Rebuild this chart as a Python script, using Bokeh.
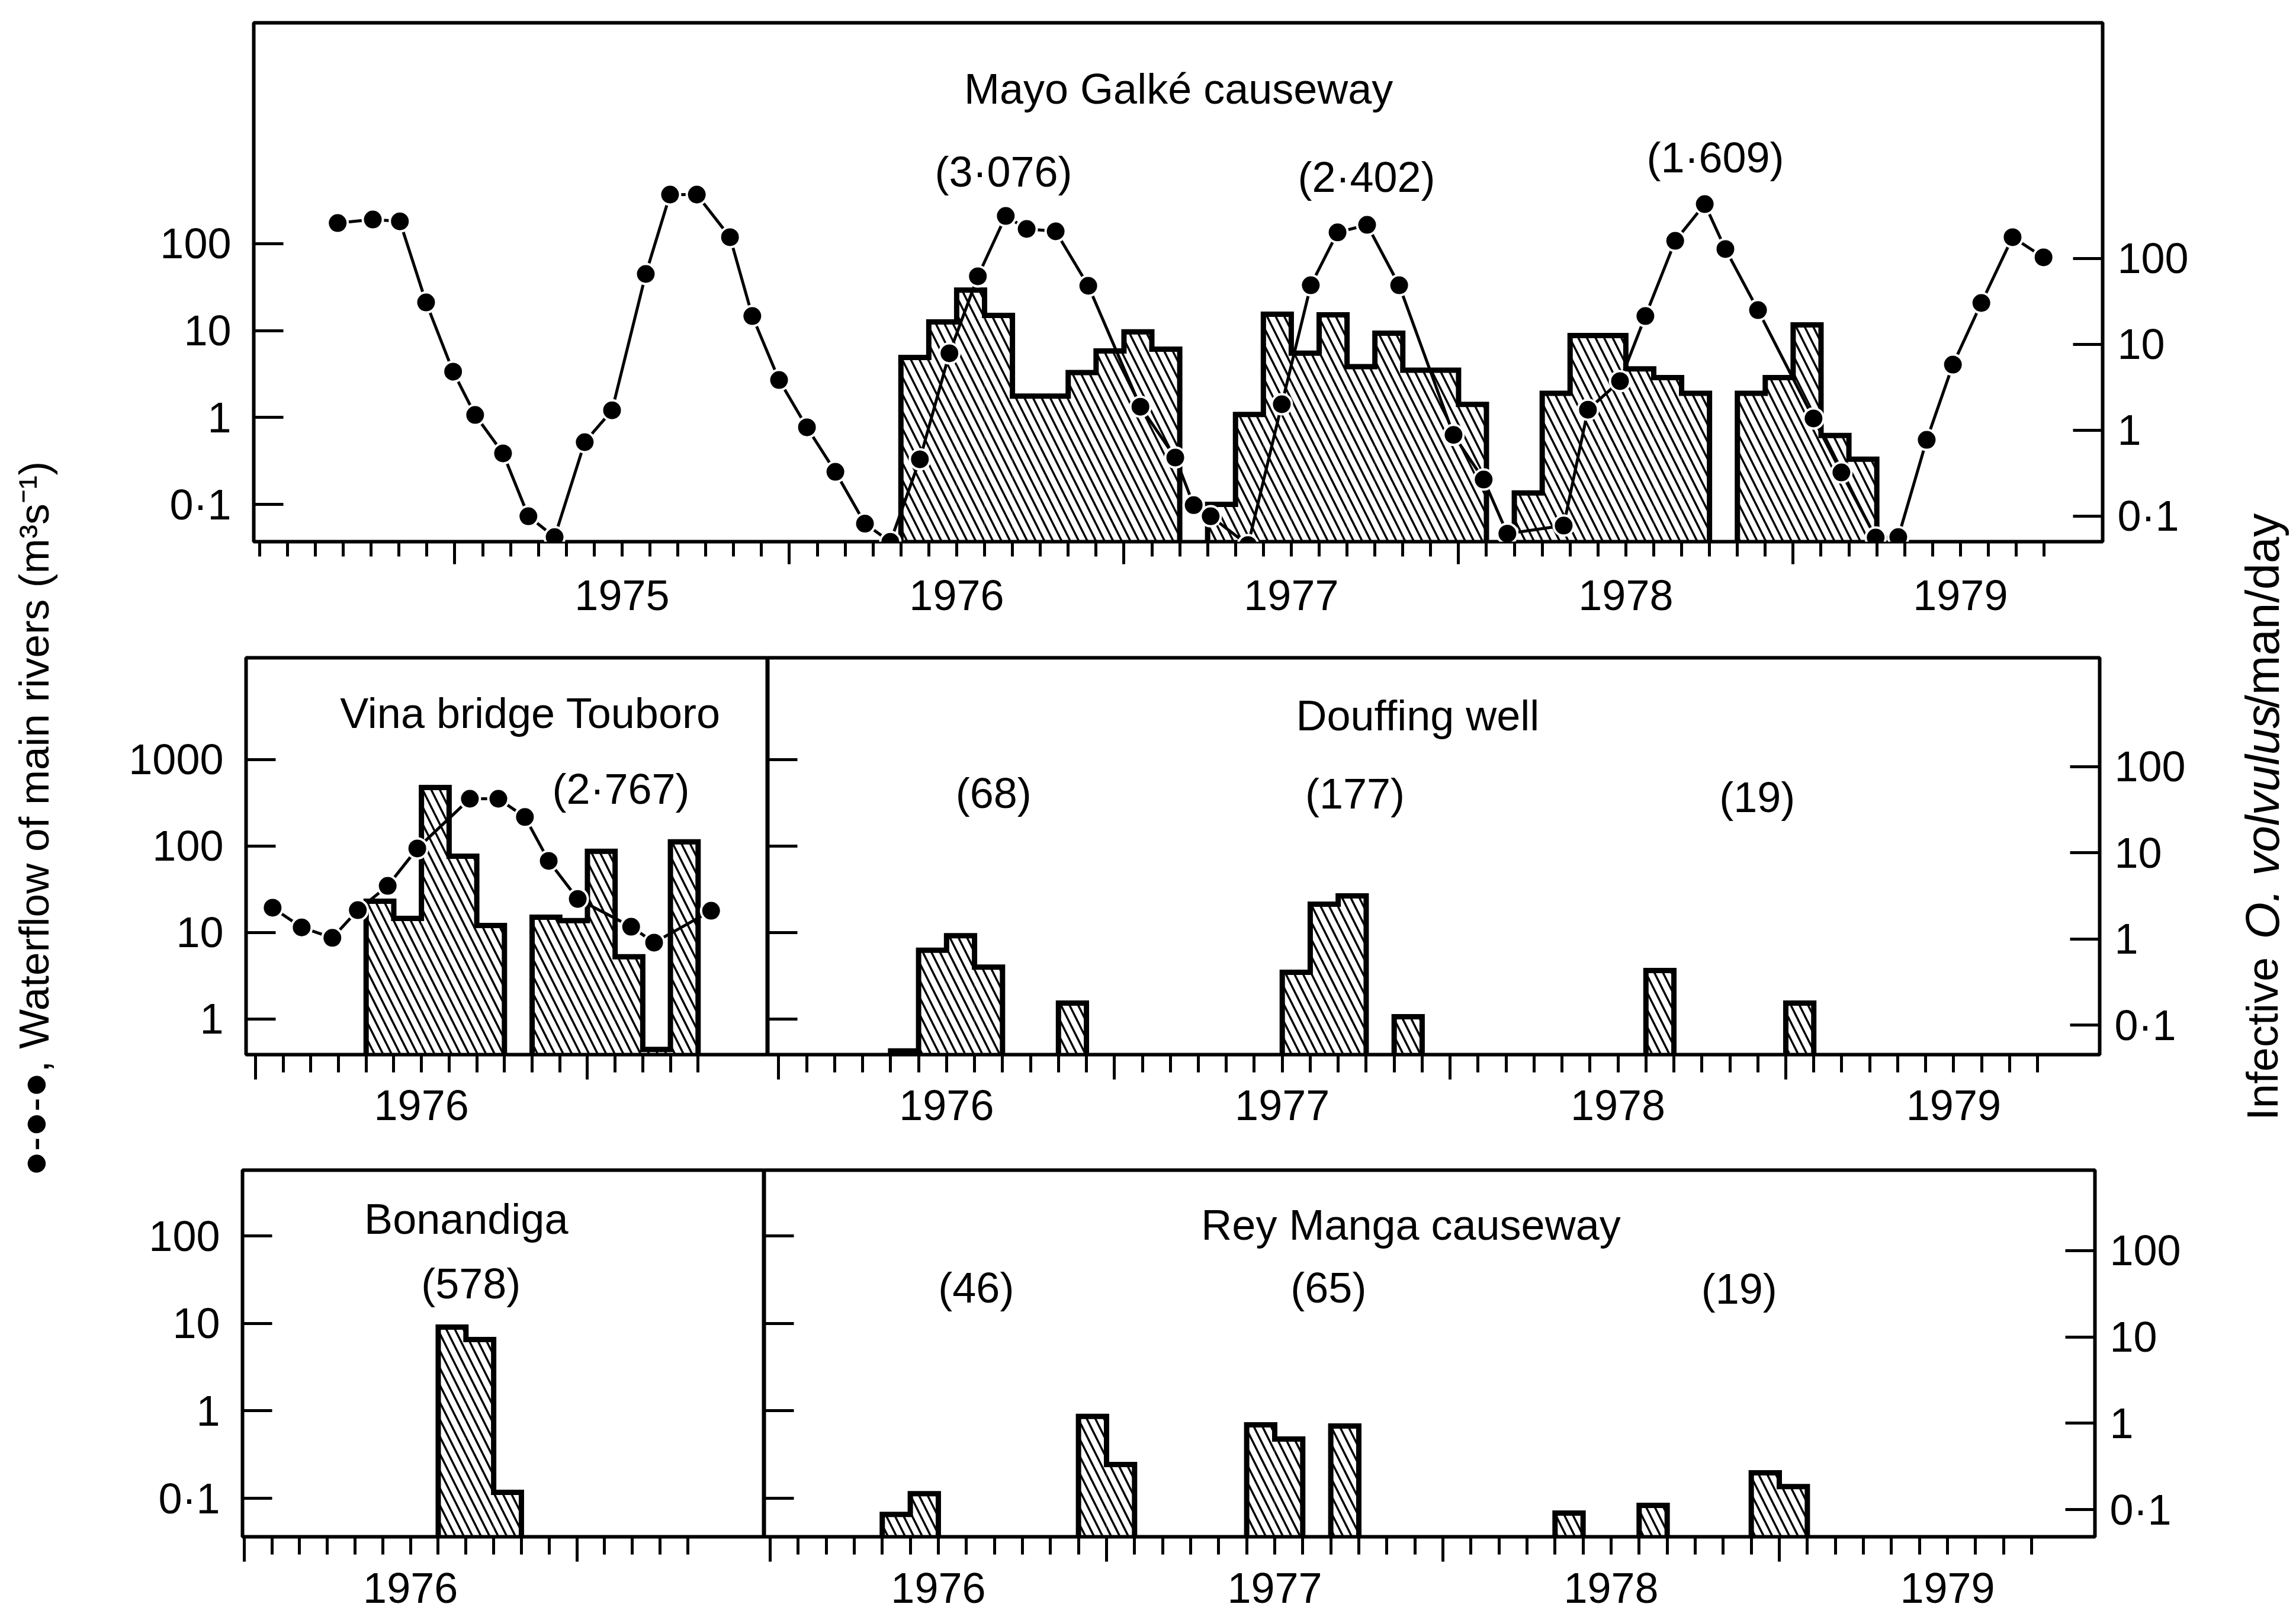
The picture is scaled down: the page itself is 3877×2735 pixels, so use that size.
from bokeh.plotting import figure
from bokeh.models import (Range1d, LogScale, LogAxis, LinearAxis, FixedTicker,
                          CustomJSTickFormatter, Label)
from bokeh.layouts import row, column
from bokeh.embed import file_html
from bokeh.resources import INLINE

FONT = "Liberation Sans"
TXT = "72px"

# ---------------- data (month index: 0 = January 1974) ----------------
mg_years = [1975, 1976, 1977, 1978, 1979]
mg_flow_month = [7.8, 9.06, 10.03, 10.97, 11.94, 12.73, 13.73, 14.64, 15.58, 16.66,
                 17.64, 18.85, 19.72, 20.68, 21.87, 22.67, 23.63, 24.63, 25.65, 26.71,
                 27.62, 28.68, 29.74, 30.76, 31.76, 32.51, 33.55, 34.72, 36.59, 37.84,
                 38.50, 39.11, 40.45, 41.66, 42.70, 43.66, 44.72, 45.87, 47.82, 48.90,
                 49.75, 51.77, 52.64, 53.79, 54.70, 55.77, 56.83, 57.57, 58.74, 60.73,
                 61.73, 62.96, 63.77, 64.79, 65.73, 66.75, 67.87, 68.98]
mg_flow_value = [173, 190, 181, 21.1, 3.37, 1.07, 0.386, 0.073, 0.042, 0.52,
                 1.21, 44.9, 368, 368, 119, 14.7, 2.70, 0.77, 0.237, 0.060,
                 0.037, 0.33, 5.48, 42.2, 209, 148, 139, 32.8, 1.33, 0.346,
                 0.098, 0.073, 0.034, 1.42, 33.3, 135, 165, 33.3, 0.63, 0.193,
                 0.046, 0.057, 1.23, 2.62, 14.7, 108, 286, 86.9, 17.2, 0.975,
                 0.233, 0.0415, 0.042, 0.553, 4.06, 20.8, 119, 69.7]
mg_inf_month = [28, 29, 30, 31, 32, 33, 34, 35, 36, 37,
                39, 40, 41, 42, 43, 44, 45, 46, 47, 48,
                50, 51, 52, 53, 54, 55, 56,
                58, 59, 60, 61, 62]
mg_inf_value = [7.05, 18.3, 43, 21.8, 2.5, 2.5, 4.7, 8.4, 14.0, 8.8,
                0.137, 1.53, 22.5, 7.9, 22.1, 5.5, 13.5, 5.0, 5.0, 2.0,
                0.186, 2.7, 12.7, 12.7, 5.2, 4.1, 2.7,
                2.7, 4.1, 16.9, 0.87, 0.46]
mg_totals = ["(3·076)", "(2·402)", "(1·609)"]

vina_years = [1976]
vina_flow_month = [24.62, 25.67, 26.78, 27.70, 28.78, 29.85, 31.75, 32.78, 33.74,
                   34.60, 35.65, 37.58, 38.41, 40.47]
vina_flow_value = [19.4, 11.5, 8.7, 18.2, 34.7, 94, 353, 353, 217, 67.5, 24.5,
                   11.7, 7.66, 17.9]
vina_inf_month = [28, 29, 30, 31, 32, 34, 35, 36, 37, 38, 39]
vina_inf_value = [2.74, 1.73, 57.4, 9.14, 1.43, 1.79, 1.63, 10.4, 0.62, 0.052, 13.4]
vina_total = "(2·767)"

douf_years = [1976, 1977, 1978, 1979]
douf_inf_month = [28, 29, 30, 31, 34, 42, 43, 44, 46, 55, 60]
douf_inf_value = [0.05, 0.74, 1.09, 0.47, 0.18, 0.41, 2.53, 3.16, 0.125, 0.43, 0.18]
douf_totals = ["(68)", "(177)", "(19)"]

bon_years = [1976]
bon_inf_month = [31, 32, 33]
bon_inf_value = [9.06, 6.53, 0.117]
bon_total = "(578)"

rey_years = [1976, 1977, 1978, 1979]
rey_inf_month = [28, 29, 35, 36, 41, 42, 44, 52, 55, 59, 60]
rey_inf_value = [0.088, 0.153, 1.20, 0.333, 0.96, 0.656, 0.93, 0.091, 0.112, 0.267, 0.185]
rey_totals = ["(46)", "(65)", "(19)"]

flow_ticks_top = [0.1, 1, 10, 100]
flow_ticks_mid = [1, 10, 100, 1000]
inf_ticks = [0.1, 1, 10, 100]

# ---------------- helpers ----------------
YFMT = "return tick < 0.5 ? '0\\u00b71' : String(Math.round(tick));"
EMPTY = "return '';"
YEARFMT = "return String(1974 + Math.floor(tick / 12));"


def make_fig(width, height, xr, yr, border, right=None):
    l, r, t, b = border
    p = figure(width=width, height=height, x_range=Range1d(*xr), y_range=Range1d(*yr),
               y_axis_type="log", y_axis_location="left", x_axis_location=None,
               output_backend="svg", toolbar_location=None,
               min_border_left=l, min_border_right=r, min_border_top=t, min_border_bottom=b)
    if right is not None:
        p.extra_y_ranges = {"right": Range1d(*right)}
        p.extra_y_scales = {"right": LogScale()}
    p.xgrid.visible = False
    p.ygrid.visible = False
    p.outline_line_color = "black"
    p.outline_line_width = 6
    p.outline_line_alpha = 1.0
    p.background_fill_color = "white"
    p.border_fill_color = "white"
    return p


def style_y(ax, ticks, labeled, standoff):
    ax.ticker = FixedTicker(ticks=ticks, minor_ticks=[])
    ax.formatter = CustomJSTickFormatter(code=YFMT if labeled else EMPTY)
    ax.axis_line_color = None
    ax.major_tick_in = 50
    ax.major_tick_out = 0
    ax.major_tick_line_width = 5
    ax.major_tick_line_color = "black"
    ax.minor_tick_line_color = None
    ax.major_label_standoff = standoff if labeled else 0
    ax.major_label_text_font = FONT
    ax.major_label_text_font_size = TXT if labeled else "0px"
    ax.major_label_text_color = "black"


def add_right_axis(p, ticks, standoff):
    ax = LogAxis(y_range_name="right")
    style_y(ax, ticks, True, standoff)
    p.add_layout(ax, "right")


def add_x_axes(p, first, last, years, short, long_, standoff):
    months = list(range(first, last + 1))
    jans = [m for m in months if m % 12 == 0]
    tick_ax = LinearAxis(ticker=FixedTicker(ticks=jans, minor_ticks=months),
                         formatter=CustomJSTickFormatter(code=EMPTY),
                         axis_line_color=None,
                         major_tick_in=0, major_tick_out=long_,
                         minor_tick_in=0, minor_tick_out=short,
                         major_tick_line_width=5, minor_tick_line_width=5,
                         major_tick_line_color="black", minor_tick_line_color="black",
                         major_label_text_font_size="0px", major_label_standoff=0)
    p.add_layout(tick_ax, "below")
    mids = [(y - 1974) * 12 + 6 for y in years]
    lab_ax = LinearAxis(ticker=FixedTicker(ticks=mids, minor_ticks=[]),
                        formatter=CustomJSTickFormatter(code=YEARFMT),
                        axis_line_color=None, major_tick_line_color=None,
                        major_tick_in=0, major_tick_out=0,
                        minor_tick_line_color=None,
                        major_label_standoff=standoff,
                        major_label_text_font=FONT, major_label_text_font_size=TXT,
                        major_label_text_color="black")
    p.add_layout(lab_ax, "below")


def step_outline(months, values, bottom):
    groups, cur = [], [0]
    for i in range(1, len(months)):
        if months[i] == months[i - 1] + 1:
            cur.append(i)
        else:
            groups.append(cur)
            cur = [i]
    groups.append(cur)
    xs_all, ys_all = [], []
    for g in groups:
        xs, ys = [months[g[0]]], [bottom]
        for i in g:
            xs += [months[i], months[i] + 1]
            ys += [values[i], values[i]]
        xs.append(months[g[-1]] + 1)
        ys.append(bottom)
        xs_all.append(xs)
        ys_all.append(ys)
    return xs_all, ys_all


def draw_bars(p, months, values, range_name):
    rng = p.y_range if range_name == "default" else p.extra_y_ranges[range_name]
    bottom = rng.start
    p.quad(left=list(months), right=[m + 1 for m in months],
           bottom=[bottom] * len(months), top=list(values),
           fill_color=None, line_color=None,
           hatch_pattern="left_diagonal_line", hatch_color="black",
           hatch_weight=3.5, hatch_scale=29, y_range_name=range_name)
    xs, ys = step_outline(months, values, bottom)
    p.multi_line(xs, ys, line_color="black", line_width=9, line_join="miter",
                 y_range_name=range_name)


def draw_flow(p, months, values):
    p.line(months, values, line_color="black", line_width=5)
    p.scatter(months, values, marker="circle", size=34, fill_color="black",
              line_color="white", line_width=4)


def add_text(p, x, y, text, size=TXT):
    p.add_layout(Label(x=x, y=y, text=text, text_font=FONT, text_font_size=size,
                       text_align="center", text_baseline="middle", text_color="black"))


# ---------------- layout geometry ----------------
L, R = 110, 132
W = 3877 - L - R
H1, H2, H3 = 1070, 860, 805

# ---- top panel: Mayo Galke causeway ----
top = make_fig(W, H1, (4.79, 71.10), (10 ** -1.4295, 10 ** 4.543), (318, 195, 38, 156),
               right=(10 ** -1.297, 10 ** 4.745))
style_y(top.yaxis[0], flow_ticks_top, True, 38)
add_right_axis(top, inf_ticks, 25)
add_x_axes(top, 5, 69, mg_years, 25, 38, 27)
draw_bars(top, mg_inf_month, mg_inf_value, "right")
draw_flow(top, mg_flow_month, mg_flow_value)
add_text(top, 37.96, 10 ** 3.78, "Mayo Galké causeway")
for xm, ye, t in zip([31.68, 44.70, 57.21], [2.825, 2.770, 2.995], mg_totals):
    add_text(top, xm, 10 ** ye, t)

# ---- middle row ----
mid_left = (10 ** -0.411, 10 ** 4.178)
mid_right = (10 ** -1.344, 10 ** 3.266)
vina = make_fig(1296 - L, H2, (23.66, 42.52), mid_left, (305, 0, 40, 150), right=mid_right)
style_y(vina.yaxis[0], flow_ticks_mid, True, 38)
add_x_axes(vina, 24, 40, vina_years, 30, 42, 18)
draw_bars(vina, vina_inf_month, vina_inf_value, "right")
draw_flow(vina, vina_flow_month, vina_flow_value)
add_text(vina, 33.94, 10 ** 3.541, "Vina bridge Touboro")
add_text(vina, 37.21, 10 ** 2.664, vina_total)

douf = make_fig(W - (1296 - L), H2, (23.61, 71.22), mid_left, (0, 200, 40, 150), right=mid_right)
style_y(douf.yaxis[0], flow_ticks_mid, False, 0)
add_right_axis(douf, inf_ticks, 25)
add_x_axes(douf, 24, 69, douf_years, 30, 42, 18)
draw_bars(douf, douf_inf_month, douf_inf_value, "right")
add_text(douf, 46.84, 10 ** 3.507, "Douffing well")
for xm, ye, t in zip([31.68, 44.6, 58.98], [2.616, 2.603, 2.568], douf_totals):
    add_text(douf, xm, 10 ** ye, t)

# ---- bottom row ----
bot_left = (10 ** -1.439, 10 ** 2.7515)
bot_right = (10 ** -1.315, 10 ** 2.933)
bon = make_fig(1290 - L, H3, (23.94, 42.76), bot_left, (299, 0, 45, 141))
style_y(bon.yaxis[0], inf_ticks, True, 38)
add_x_axes(bon, 24, 40, bon_years, 30, 42, 19)
draw_bars(bon, bon_inf_month, bon_inf_value, "default")
add_text(bon, 32.01, 10 ** 2.196, "Bonandiga")
add_text(bon, 32.18, 10 ** 1.458, bon_total)

rey = make_fig(W - (1290 - L), H3, (23.79, 71.26), bot_left, (0, 208, 45, 141), right=bot_right)
style_y(rey.yaxis[0], inf_ticks, False, 0)
add_right_axis(rey, inf_ticks, 25)
add_x_axes(rey, 24, 69, rey_years, 30, 42, 19)
draw_bars(rey, rey_inf_month, rey_inf_value, "right")
add_text(rey, 46.86, 10 ** 2.122, "Rey Manga causeway")
for xm, ye, t in zip([31.35, 43.92, 58.57], [1.411, 1.411, 1.391], rey_totals):
    add_text(rey, xm, 10 ** ye, t)


# ---- side titles ----
def side_fig(width):
    p = figure(width=width, height=2735, x_range=Range1d(0, width), y_range=Range1d(0, 2735),
               x_axis_location=None, y_axis_location=None, output_backend="svg",
               toolbar_location=None, min_border_left=0, min_border_right=0,
               min_border_top=0, min_border_bottom=0)
    p.xgrid.visible = False
    p.ygrid.visible = False
    p.outline_line_color = None
    return p


left_fig = side_fig(L)
left_fig.add_layout(Label(x=57, y=2735 - 1382, angle=90, angle_units="deg",
                          text="\u25cf-\u25cf-\u25cf, Waterflow of main rivers (m\u00b3s\u207b\u00b9)",
                          text_font=FONT, text_font_size="71px", text_align="center",
                          text_baseline="middle", text_color="black"))

right_fig = side_fig(R)
for ystart, t, style, fs in [(1891, "Infective", "normal", "74px"),
                             (1585, "O. volvulus", "italic", "80px"),
                             (1195, "/man/day", "normal", "80px")]:
    right_fig.add_layout(Label(x=75, y=2735 - ystart, angle=90, angle_units="deg", text=t,
                               text_font=FONT, text_font_size=fs, text_font_style=style,
                               text_align="left", text_baseline="middle", text_color="black"))

layout = row(left_fig, column(top, row(vina, douf), row(bon, rey)), right_fig)

open("out.html", "w").write(file_html(layout, INLINE))
